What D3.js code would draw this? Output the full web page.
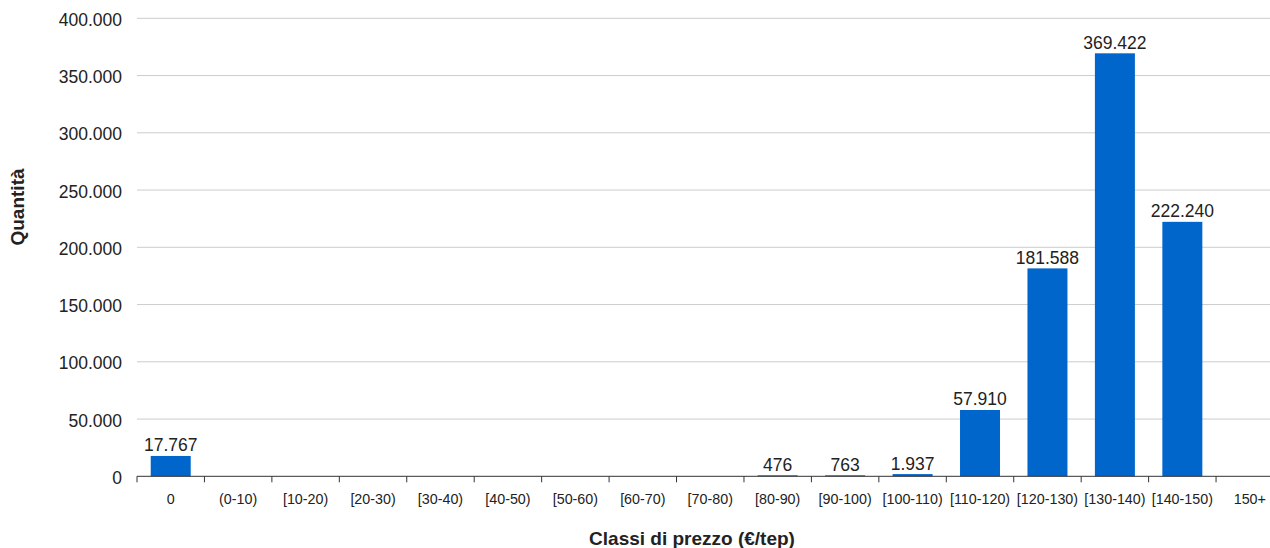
<!DOCTYPE html>
<html>
<head>
<meta charset="utf-8">
<script src="https://cdn.jsdelivr.net/npm/d3@7"></script>
<style>
  html, body { margin: 0; padding: 0; background: #fff; }
  svg { display: block; font-family: "Liberation Sans", Arial, sans-serif; }
</style>
</head>
<body>
<svg id="chart" width="1270" height="548"></svg>
<script>
// Price classes (€/tep) and traded quantity per class
const categories = ["0", "(0-10)", "[10-20)", "[20-30)", "[30-40)", "[40-50)", "[50-60)",
  "[60-70)", "[70-80)", "[80-90)", "[90-100)", "[100-110)", "[110-120)", "[120-130)",
  "[130-140)", "[140-150)", "150+"];
const quantities = [17767, 0, 0, 0, 0, 0, 0, 0, 0, 476, 763, 1937, 57910, 181588, 369422, 222240, 0];
const yTicks = [0, 50000, 100000, 150000, 200000, 250000, 300000, 350000, 400000];

const svg = d3.select("#chart");
const plotLeft = 137, plotRight = 1283.5, plotTop = 18.3, plotBottom = 476.3;
const FONT = "Liberation Sans, Arial, sans-serif";

// Italian number formatting: dot as thousands separator
const itLocale = d3.formatLocale({ decimal: ",", thousands: ".", grouping: [3], currency: ["€", ""] });
const fmt = itLocale.format(",d");

const x = d3.scaleBand().domain(categories).range([plotLeft, plotRight]).paddingInner(0.407).paddingOuter(0.2035);
const y = d3.scaleLinear().domain([0, 400000]).range([plotBottom, plotTop]);

// Horizontal gridlines
svg.append("g")
  .selectAll("line")
  .data(yTicks.slice(1))
  .join("line")
  .attr("x1", plotLeft).attr("x2", 1270)
  .attr("y1", d => y(d)).attr("y2", d => y(d))
  .attr("stroke", "#cccccc").attr("stroke-width", 1);

// Y axis labels
const yAxis = d3.axisLeft(y).tickValues(yTicks).tickFormat(fmt).tickSize(0).tickPadding(0);
svg.append("g")
  .attr("transform", `translate(${plotLeft - 15},0)`)
  .call(yAxis)
  .call(g => g.select(".domain").remove())
  .call(g => g.selectAll("text")
    .attr("dy", 7)
    .attr("font-size", 17.5).attr("fill", "#222").attr("font-family", FONT));

const barData = categories.map((c, i) => ({ c, v: quantities[i] })).filter(d => d.v > 0);

// Bars
svg.append("g")
  .selectAll("rect")
  .data(barData)
  .join("rect")
  .attr("x", d => x(d.c))
  .attr("width", x.bandwidth())
  .attr("y", d => Math.min(y(d.v), plotBottom - 1))
  .attr("height", d => Math.max(plotBottom - y(d.v), 1))
  .attr("fill", "#0066cc");

// Value labels above the bars
svg.append("g")
  .selectAll("text")
  .data(barData)
  .join("text")
  .attr("x", d => x(d.c) + x.bandwidth() / 2)
  .attr("y", d => Math.min(y(d.v), plotBottom - 1) - 4.5)
  .attr("text-anchor", "middle")
  .attr("font-size", 17.5)
  .attr("fill", "#222")
  .text(d => fmt(d.v));

// X axis baseline with ticks at category boundaries
const boundaries = d3.range(categories.length + 1).map(i => plotLeft + i * x.step());
const xg = svg.append("g");
xg.append("line")
  .attr("x1", plotLeft).attr("x2", 1270)
  .attr("y1", plotBottom).attr("y2", plotBottom)
  .attr("stroke", "#333").attr("stroke-width", 1);
xg.selectAll("line.tick")
  .data(boundaries)
  .join("line")
  .attr("class", "tick")
  .attr("x1", d => d).attr("x2", d => d)
  .attr("y1", plotBottom).attr("y2", plotBottom + 6)
  .attr("stroke", "#333").attr("stroke-width", 1);

const xAxis = d3.axisBottom(x).tickSize(0).tickPadding(0);
svg.append("g")
  .attr("transform", `translate(0,${plotBottom})`)
  .call(xAxis)
  .call(g => g.select(".domain").remove())
  .call(g => g.selectAll("text")
    .attr("y", 27.7).attr("dy", 0)
    .attr("font-size", 14.3).attr("fill", "#222").attr("font-family", FONT));

// Axis titles
svg.append("text")
  .attr("x", 692).attr("y", 545)
  .attr("text-anchor", "middle")
  .attr("font-size", 19).attr("font-weight", "bold").attr("fill", "#222")
  .text("Classi di prezzo (€/tep)");

svg.append("text")
  .attr("transform", "translate(24,207) rotate(-90)")
  .attr("text-anchor", "middle")
  .attr("font-size", 19).attr("font-weight", "bold").attr("fill", "#222")
  .text("Quantità");
</script>
</body>
</html>
